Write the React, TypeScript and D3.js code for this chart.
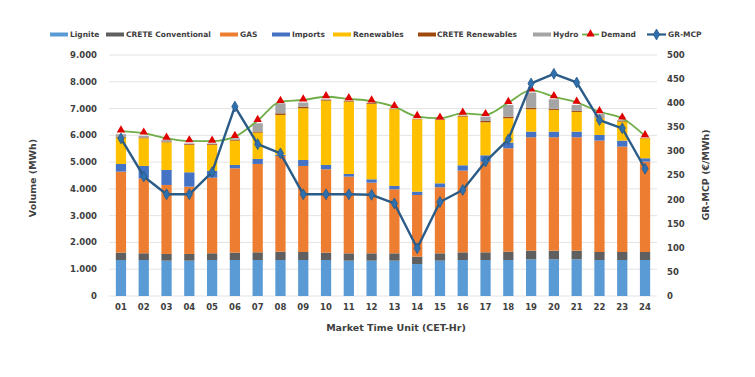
import React from "react";
import * as d3 from "d3";

const hours = ["01","02","03","04","05","06","07","08","09","10","11","12","13","14","15","16","17","18","19","20","21","22","23","24"];
const lignite = [1345,1345,1320,1320,1345,1345,1345,1345,1345,1345,1320,1320,1320,1195,1320,1345,1345,1345,1370,1370,1370,1345,1345,1345];
const creteConv = [275,250,250,250,250,275,286,311,299,274,274,274,274,275,274,286,286,311,324,324,324,299,299,299];
const gas = [3025,2800,2577,2515,2825,3150,3300,3574,3213,3113,2864,2640,2391,2303,2466,3051,3388,3861,4234,4234,4234,4159,3935,3375];
const imports = [285,462,560,535,250,124,187,40,224,162,100,125,125,125,149,200,236,212,211,211,211,212,224,124];
const renewables = [985,1033,1033,1020,970,909,984,1492,1930,2404,2702,2814,2864,2702,2366,1818,1233,909,835,810,735,623,710,747];
const creteRen = [30,30,30,30,30,30,40,60,60,30,30,30,20,20,20,30,50,60,60,40,40,30,30,20];
const hydro = [95,60,60,30,30,57,309,376,152,22,10,7,6,0,5,10,162,438,563,358,222,132,32,0];
const demand = [6160,6080,5890,5790,5780,5950,6550,7260,7320,7440,7360,7280,7070,6700,6640,6820,6770,7220,7690,7440,7230,6880,6640,5980];
const mcp = [327,248,211,211,257,393,315,296,211,211,211,210,192,99,195,220,279,325,441,461,443,365,348,264];
const leftTicks = [0,1000,2000,3000,4000,5000,6000,7000,8000,9000];
const rightTicks = [0,50,100,150,200,250,300,350,400,450,500];

const seriesNames = ["Lignite","CRETE Conventional","GAS","Imports","Renewables","CRETE Renewables","Hydro"];
const seriesColors = ["#5B9BD5","#5F5F5F","#ED7D31","#4472C4","#FFC000","#9E480E","#A5A5A5"];
const seriesData = [lignite,creteConv,gas,imports,renewables,creteRen,hydro];

const FONT = "'DejaVu Sans', sans-serif";
const TXT = "#404040";

export default function App() {
  const W = 755, H = 377;
  const x = d3.scaleBand<string>().domain(hours).range([109, 657]).paddingInner(0.55).paddingOuter(0.3);
  const yL = d3.scaleLinear().domain([0, 9000]).range([296, 55]);
  const yR = d3.scaleLinear().domain([0, 500]).range([296, 55]);
  const cx = (h: string) => (x(h) as number) + x.bandwidth() / 2;

  const rows = hours.map((h, i) => {
    const r: any = { h };
    seriesNames.forEach((n, k) => (r[n] = seriesData[k][i]));
    return r;
  });
  const stack = d3.stack<any>().keys(seriesNames)(rows);

  const demandLine = d3.line<number>().x((_, i) => cx(hours[i])).y(d => yL(d)).curve(d3.curveMonotoneX);
  const mcpLine = d3.line<number>().x((_, i) => cx(hours[i])).y(d => yR(d));

  const tri = d3.symbol().type(d3.symbolTriangle).size(30)();
  const dia = d3.symbol().type(d3.symbolDiamond).size(34)();

  const legendItems = [
    { name: "Lignite", color: seriesColors[0], sx: 50, tx: 70, type: "bar" },
    { name: "CRETE Conventional", color: seriesColors[1], sx: 106, tx: 126, type: "bar" },
    { name: "GAS", color: seriesColors[2], sx: 220, tx: 240, type: "bar" },
    { name: "Imports", color: seriesColors[3], sx: 272, tx: 292, type: "bar" },
    { name: "Renewables", color: seriesColors[4], sx: 333, tx: 353, type: "bar" },
    { name: "CRETE Renewables", color: seriesColors[5], sx: 418, tx: 437, type: "bar" },
    { name: "Hydro", color: seriesColors[6], sx: 533, tx: 553, type: "bar" },
    { name: "Demand", color: "#70AD47", sx: 582, tx: 601, type: "demand" },
    { name: "GR-MCP", color: "#2B5B87", sx: 647, tx: 668, type: "mcp" },
  ];
  const ly = 34.5;

  return (
    <svg width={W} height={H} style={{ position: "absolute", left: 0, top: 0, background: "#fff" }}>
      {/* gridlines */}
      {leftTicks.map(t => (
        <line key={t} x1={109} x2={657} y1={yL(t)} y2={yL(t)} stroke="#E3E3E3" strokeWidth={1} />
      ))}
      {/* bars */}
      {stack.map((s, k) => (
        <g key={k} fill={seriesColors[k]}>
          {s.map((d, i) => (
            <rect key={i} x={x(hours[i])} width={x.bandwidth()} y={yL(d[1])} height={Math.max(0, yL(d[0]) - yL(d[1]))} />
          ))}
        </g>
      ))}
      {/* demand */}
      <path d={demandLine(demand) || ""} fill="none" stroke="#70AD47" strokeWidth={1.8} />
      {demand.map((d, i) => (
        <path key={i} d={tri || ""} transform={`translate(${cx(hours[i])},${yL(d) - 1})`} fill="#E00000" />
      ))}
      {/* mcp */}
      <path d={mcpLine(mcp) || ""} fill="none" stroke="#2B5B87" strokeWidth={2.4} strokeLinejoin="round" />
      {mcp.map((d, i) => (
        <path key={i} d={dia || ""} transform={`translate(${cx(hours[i])},${yR(d)})`} fill="#2E6FAE" stroke="#2B5B87" strokeWidth={0.8} />
      ))}
      {/* left ticks */}
      {leftTicks.map(t => (
        <text key={t} x={97} y={yL(t)} dy="0.35em" textAnchor="end" fontFamily={FONT} fontWeight="bold" fontSize={8.5} fill={TXT}>
          {t === 0 ? "0" : d3.format(",")(t).replace(/,/g, ".")}
        </text>
      ))}
      {/* right ticks */}
      {rightTicks.map(t => (
        <text key={t} x={667} y={yR(t)} dy="0.35em" textAnchor="start" fontFamily={FONT} fontWeight="bold" fontSize={8.5} fill={TXT}>
          {t}
        </text>
      ))}
      {/* x ticks */}
      {hours.map(h => (
        <text key={h} x={cx(h)} y={307} dy="0.35em" textAnchor="middle" fontFamily={FONT} fontWeight="bold" fontSize={8.5} fill={TXT}>
          {h}
        </text>
      ))}
      {/* axis titles */}
      <text x={396} y={328} dy="0.35em" textAnchor="middle" fontFamily={FONT} fontWeight="bold" fontSize={9.5} fill={TXT}>
        Market Time Unit (CET-Hr)
      </text>
      <text transform="translate(33,178) rotate(-90)" dy="0.35em" textAnchor="middle" fontFamily={FONT} fontWeight="bold" fontSize={9.5} fill={TXT}>
        Volume (MWh)
      </text>
      <text transform="translate(706,175) rotate(-90)" dy="0.35em" textAnchor="middle" fontFamily={FONT} fontWeight="bold" fontSize={9.5} fill={TXT}>
        GR-MCP (€/MWh)
      </text>
      {/* legend */}
      {legendItems.map(it => (
        <g key={it.name}>
          {it.type === "bar" && <rect x={it.sx} y={ly - 2} width={18} height={4} fill={it.color} />}
          {it.type === "demand" && (
            <g>
              <line x1={it.sx} x2={it.sx + 17} y1={ly} y2={ly} stroke="#70AD47" strokeWidth={1.8} />
              <path d={tri || ""} transform={`translate(${it.sx + 8.5},${ly - 0.5})`} fill="#E00000" />
            </g>
          )}
          {it.type === "mcp" && (
            <g>
              <line x1={it.sx} x2={it.sx + 19} y1={ly} y2={ly} stroke="#2B5B87" strokeWidth={2.2} />
              <path d={dia || ""} transform={`translate(${it.sx + 9.5},${ly})`} fill="#2E6FAE" stroke="#2B5B87" strokeWidth={0.8} />
            </g>
          )}
          <text x={it.tx} y={ly} dy="0.35em" fontFamily={FONT} fontWeight="bold" fontSize={7.5} fill={TXT}>
            {it.name}
          </text>
        </g>
      ))}
    </svg>
  );
}
